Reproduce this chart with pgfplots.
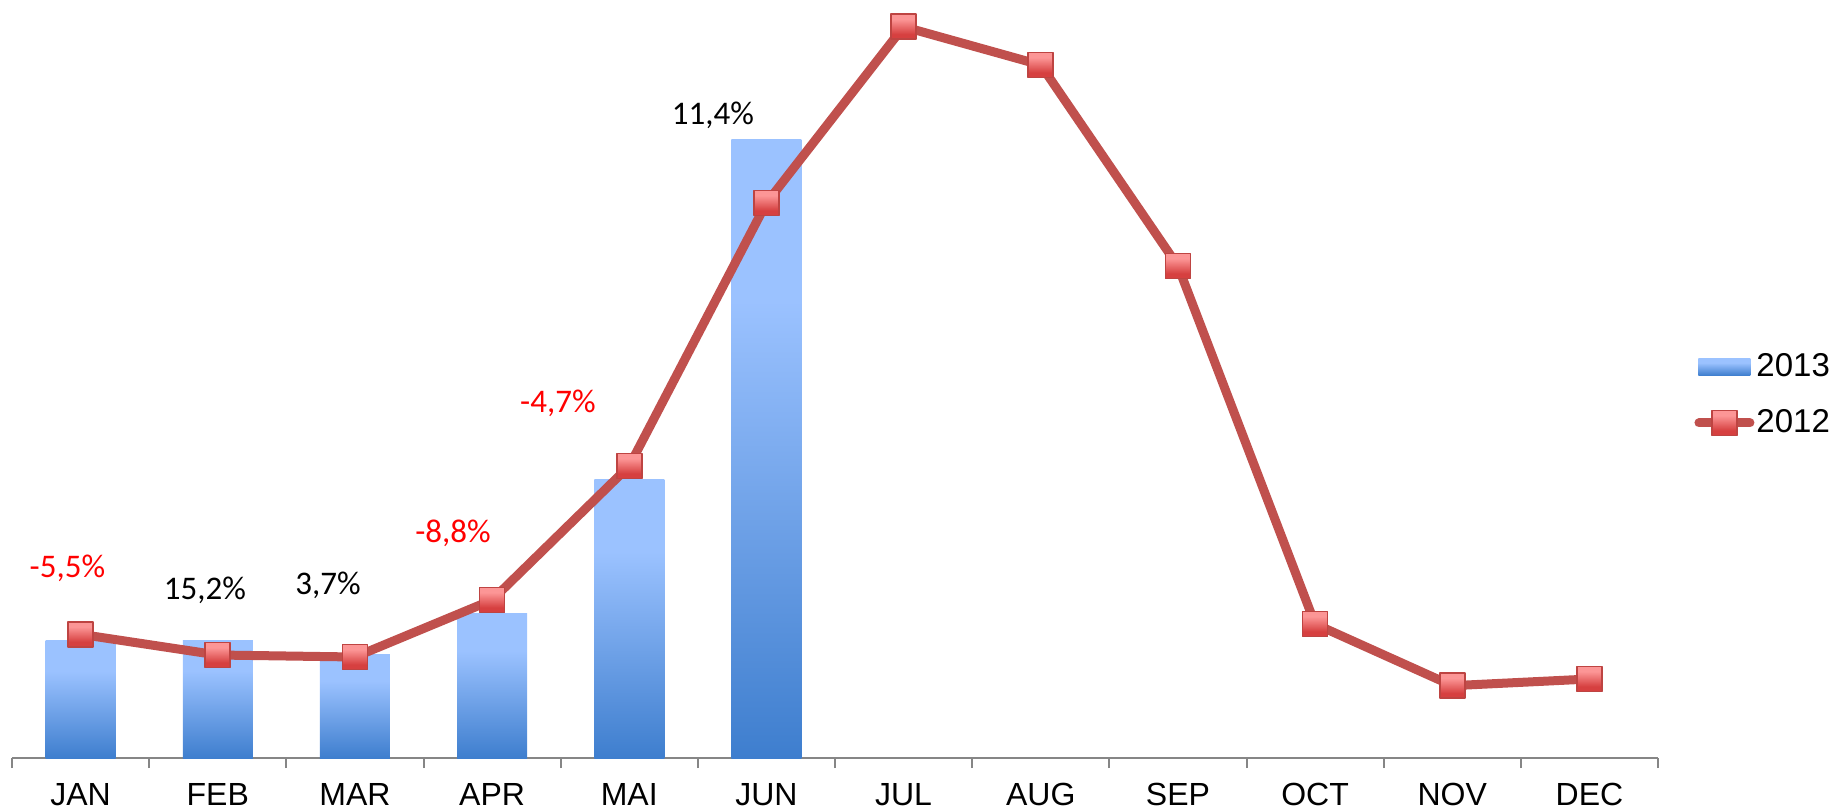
\documentclass[border=0pt]{standalone}
\usepackage{pgfplots}
\pgfplotsset{compat=1.18}
\usepackage{fontspec}
\setmainfont{Liberation Sans}
\newfontfamily\calibri{Carlito}
\definecolor{bartop}{RGB}{155,194,255}
\definecolor{barbot}{RGB}{62,126,206}
\definecolor{linec}{RGB}{192,80,77}
\definecolor{mktop}{RGB}{252,150,150}
\definecolor{mkbot}{RGB}{214,64,64}
\definecolor{mkdraw}{RGB}{190,68,66}
\definecolor{axisgray}{RGB}{134,134,134}
\pgfdeclareverticalshading{barshade}{100bp}{color(0bp)=(barbot); color(25bp)=(barbot); color(62bp)=(bartop); color(100bp)=(bartop)}
\pgfdeclareverticalshading{markshade}{100bp}{color(0bp)=(mkbot); color(35bp)=(mkbot); color(65bp)=(mktop); color(100bp)=(mktop)}
\pgfdeclareplotmark{gsquare}{%
  \pgfpathrectangle{\pgfqpoint{-\pgfplotmarksize}{-\pgfplotmarksize}}{\pgfqpoint{2\pgfplotmarksize}{2\pgfplotmarksize}}%
  \pgfshadepath{markshade}{0}%
  \pgfusepath{discard}%
  \pgfpathrectangle{\pgfqpoint{-\pgfplotmarksize}{-\pgfplotmarksize}}{\pgfqpoint{2\pgfplotmarksize}{2\pgfplotmarksize}}%
  \pgfusepath{stroke}%
}
\pgfplotsset{
  barleg/.style={legend image code/.code={\path[shade, shading=barshade, draw=none] (2pt,-4.25pt) rectangle (28pt,4.25pt);}},
  lineleg/.style={legend image code/.code={\draw[##1, mark repeat=2, mark phase=2] plot coordinates {(2.25pt,0pt) (15pt,0pt) (27.75pt,0pt)};}},
}
\pgfplotstableread{
x y
0 117.3
1 118
2 104
3 144.7
4 279
5 618
}\bars
\pgfplotstableread{
x y
0 123.7
1 103
2 101
3 158
4 292
5 555
6 731.3
7 693
8 492
9 134
10 72.3
11 79
}\lines
\begin{document}
\begin{tikzpicture}
\path[use as bounding box] (-6pt,-26pt) rectangle (909.5pt,379pt);
\begin{axis}[
  at={(0pt,0pt)}, anchor=south west,
  scale only axis, width=823pt, height=379pt,
  xmin=-0.5, xmax=11.5, ymin=0, ymax=758,
  clip=false,
  axis y line=none, axis x line*=bottom,
  axis line style={axisgray, line width=1pt},
  xtick={0,...,11},
  xticklabels={JAN,FEB,MAR,APR,MAI,JUN,JUL,AUG,SEP,OCT,NOV,DEC},
  major tick length=0pt,
  minor xtick={-0.5,0.5,...,11.5},
  minor tick length=5pt,
  tick align=outside,
  minor tick style={axisgray, line width=1pt},
  xticklabel style={font=\fontsize{16}{19}\selectfont, anchor=base, yshift=-23.5pt},
  legend style={at={(rel axis cs:1.0219,0.479)}, anchor=west, draw=none, fill=none,
    inner sep=0pt, row sep=13pt, font=\fontsize{16.5}{19}\selectfont,
    nodes={inner sep=1pt}},
  legend cell align=left,
]
\pgfplotsinvokeforeach{0,...,5}{%
  \addplot[ybar, bar width=35pt, draw=none, shade, shading=barshade, forget plot,
    restrict x to domain=#1:#1]
    table[x=x,y=y] {\bars};
}
\addlegendimage{barleg}
\addlegendentry{2013}
\addplot[linec, line width=4.5pt, line cap=round, line join=round,
  mark=gsquare, mark size=6.25pt, mark options={draw=mkdraw, line width=0.8pt}, lineleg]
  table[x=x,y=y] {\lines};
\addlegendentry{2012}
\node[font=\calibri\fontsize{16.5}{19}\selectfont, text=red] at (axis cs:-0.096,190) {-5,5\%};
\node[font=\calibri\fontsize{16.5}{19}\selectfont, text=black] at (axis cs:0.907,168) {15,2\%};
\node[font=\calibri\fontsize{16.5}{19}\selectfont, text=black] at (axis cs:1.804,173) {3,7\%};
\node[font=\calibri\fontsize{16.5}{19}\selectfont, text=red] at (axis cs:2.715,225) {-8,8\%};
\node[font=\calibri\fontsize{16.5}{19}\selectfont, text=red] at (axis cs:3.48,355) {-4,7\%};
\node[font=\calibri\fontsize{16.5}{19}\selectfont, text=black] at (axis cs:4.61,643) {11,4\%};
\end{axis}
\end{tikzpicture}
\end{document}
